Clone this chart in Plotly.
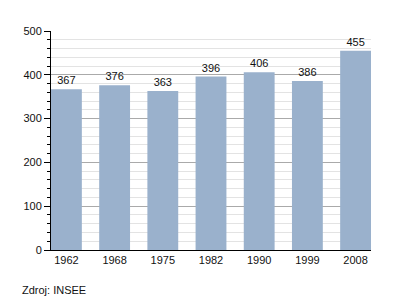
import plotly.graph_objects as go

years = ["1962", "1968", "1975", "1982", "1990", "1999", "2008"]
population = [367, 376, 363, 396, 406, 386, 455]
y_ticks = [0, 100, 200, 300, 400, 500]

fig = go.Figure(go.Bar(
    x=years, y=population,
    marker=dict(color="#9AB1CC", line=dict(width=0)),
    width=0.64,
    text=[str(v) for v in population],
    textposition="outside",
    textfont=dict(size=11, color="#111111", family="Liberation Sans, Arial"),
    cliponaxis=False,
))

fig.update_layout(
    width=400, height=300,
    margin=dict(l=51, r=29, t=31, b=50),
    paper_bgcolor="white", plot_bgcolor="white",
    font=dict(family="Liberation Sans, Arial", size=11, color="#111111"),
    showlegend=False,
    xaxis=dict(
        type="category", range=[-0.32, 6.32],
        showline=True, linecolor="black", linewidth=1,
        ticks="", showgrid=False, fixedrange=True,
        tickfont=dict(size=11),
    ),
    yaxis=dict(
        range=[0, 500], tickvals=y_ticks,
        showline=True, linecolor="black", linewidth=1,
        ticks="outside", ticklen=6, tickcolor="black",
        showgrid=True, gridcolor="#AAAAAA", gridwidth=1,
        zeroline=False,
        minor=dict(dtick=20, showgrid=True, gridcolor="#E3E3E3",
                   ticks="outside", ticklen=3, tickcolor="black"),
        tickfont=dict(size=11),
    ),
    annotations=[dict(
        text="Zdroj: INSEE", xref="paper", yref="paper",
        x=-51/320 + 20/320, y=-40/219, xanchor="left", yanchor="middle",
        showarrow=False, font=dict(size=11),
    )],
)

fig.write_html("out.html")
